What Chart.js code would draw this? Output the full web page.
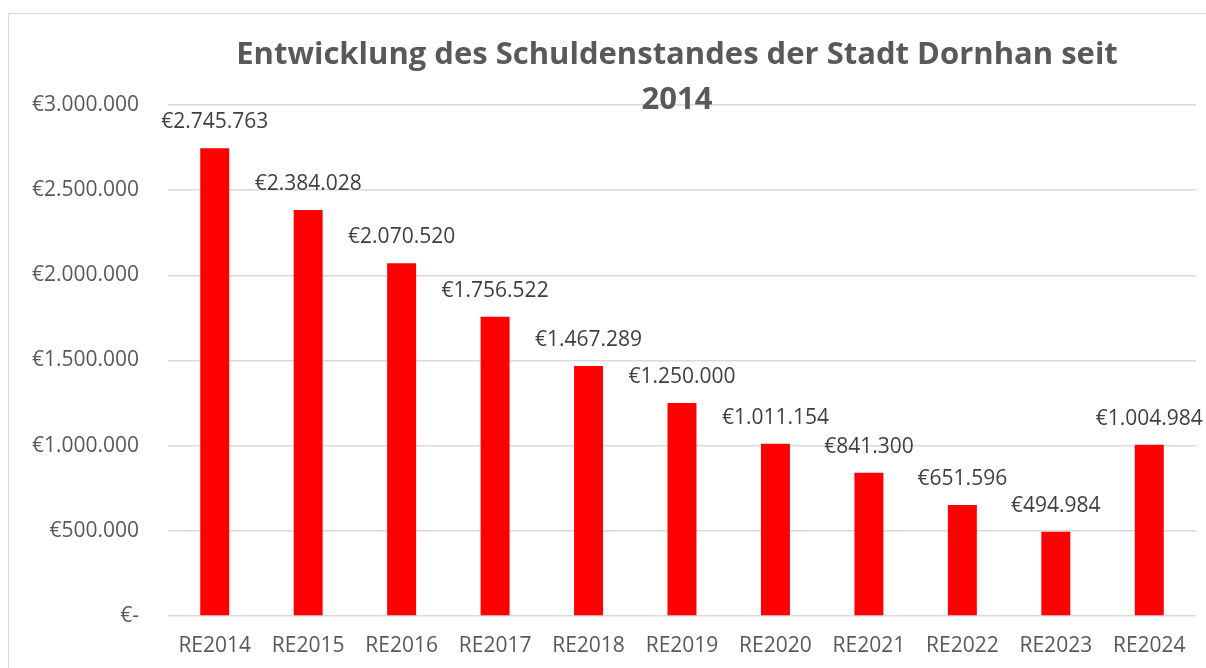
<!DOCTYPE html>
<html lang="de">
<head>
<meta charset="utf-8">
<title>Schuldenstand Dornhan</title>
<script src="https://cdn.jsdelivr.net/npm/chart.js@4/dist/chart.umd.min.js"></script>
<style>
  html, body { margin: 0; padding: 0; background: #fff; overflow: hidden; }
  #wrap { position: relative; width: 1206px; height: 668px; }
  #frame {
    position: absolute; left: 8px; top: 13px; right: -20px; bottom: -20px;
    border: 1.5px solid #d9d9d9;
  }
  #chart { position: absolute; left: 0; top: 0; }
</style>
</head>
<body>
<div id="wrap">
  <div id="frame"></div>
  <canvas id="chart" width="1206" height="668"></canvas>
</div>
<script>
// Schuldenstand je Rechnungsergebnis (RE)
const years = ["RE2014", "RE2015", "RE2016", "RE2017", "RE2018", "RE2019",
               "RE2020", "RE2021", "RE2022", "RE2023", "RE2024"]
const debt = [2745763, 2384028, 2070520, 1756522, 1467289, 1250000,
              1011154, 841300, 651596, 494984, 1004984]
const titleLines = ["Entwicklung des Schuldenstandes der Stadt Dornhan seit", "2014"]
const yMin = 0
const yMax = 3000000
const yStep = 500000

const FONT = "'Open Sans', 'Noto Sans', sans-serif"

// 1234567 -> "€1.234.567", 0 -> "€-"
function euro(v) {
  if (v === 0) return "€-"
  return "€" + String(Math.round(v)).replace(/\B(?=(\d{3})+(?!\d))/g, ".")
}

// Werte über den Balken
const valueLabels = {
  id: "valueLabels",
  afterDatasetsDraw(chart) {
    const ctx = chart.ctx
    const meta = chart.getDatasetMeta(0)
    ctx.save()
    ctx.font = "21px " + FONT
    ctx.fillStyle = "#404040"
    ctx.textAlign = "center"
    ctx.textBaseline = "middle"
    meta.data.forEach((bar, i) => {
      ctx.fillText(euro(chart.data.datasets[0].data[i]), bar.x, bar.y - 26)
    })
    ctx.restore()
  }
}

// Titel liegt wie im Original über der Zeichenfläche
const overlayTitle = {
  id: "overlayTitle",
  afterDraw(chart) {
    const ctx = chart.ctx
    ctx.save()
    ctx.font = "bold 31px " + FONT
    ctx.fillStyle = "#595959"
    ctx.textAlign = "center"
    ctx.textBaseline = "middle"
    titleLines.forEach((line, i) => {
      ctx.fillText(line, 677, 55 + i * 45)
    })
    ctx.restore()
  }
}

new Chart(document.getElementById("chart"), {
  type: "bar",
  data: {
    labels: years,
    datasets: [{
      data: debt,
      backgroundColor: "#ff0000",
      borderWidth: 0,
      barPercentage: 0.31,
      categoryPercentage: 1
    }]
  },
  options: {
    responsive: false,
    animation: false,
    devicePixelRatio: 1,
    layout: { padding: { top: 105, right: 10, bottom: 0, left: 0 } },
    scales: {
      x: {
        grid: { display: false, drawTicks: false },
        border: { display: false },
        ticks: {
          color: "#595959",
          font: { family: FONT, size: 21 },
          padding: 17,
          maxRotation: 0,
          autoSkip: false
        },
        afterFit(scale) { scale.height = 52 }
      },
      y: {
        min: yMin,
        max: yMax,
        grid: { color: "#d9d9d9", lineWidth: 1.5, drawTicks: false },
        border: { display: false },
        ticks: {
          stepSize: yStep,
          color: "#595959",
          font: { family: FONT, size: 21 },
          padding: 29,
          callback: (v) => euro(v)
        },
        afterFit(scale) { scale.width = 168 }
      }
    },
    plugins: {
      legend: { display: false },
      title: { display: false },
      tooltip: { enabled: false }
    }
  },
  plugins: [valueLabels, overlayTitle]
})
</script>
</body>
</html>
